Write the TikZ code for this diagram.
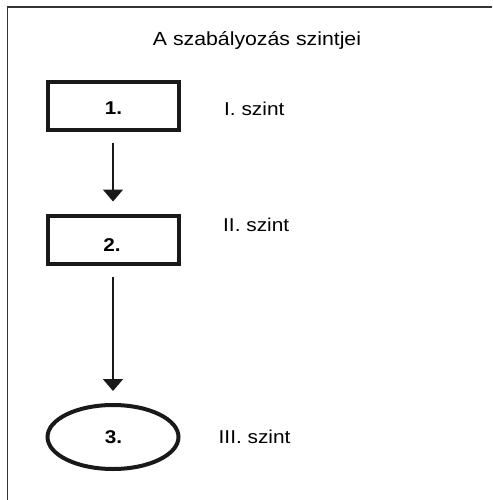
\documentclass[tikz,border=0pt]{standalone}
\usepackage{fontspec}
\setmainfont{Liberation Sans}
\newfontfamily\widefont[FakeStretch=1.12]{Liberation Sans}
\usetikzlibrary{arrows.meta,shapes.geometric}
\begin{document}
\begin{tikzpicture}[x=1pt,y=-1pt,
  levelbox/.style={draw=black!90,line width=4pt,minimum width=131pt,minimum height=48pt,inner sep=0pt},
  levelell/.style={ellipse,draw=black!90,line width=4pt,minimum width=131pt,minimum height=64pt,inner sep=0pt},
  numtxt/.style={font=\widefont\fontsize{18.5}{22}\selectfont\bfseries,anchor=base,inner sep=0pt},
  lbltxt/.style={font=\widefont\fontsize{18.6}{22}\selectfont,anchor=base west,inner sep=0pt},
  flow/.style={draw=black!90,line width=2pt,-{Triangle[width=20pt,length=12pt]},shorten <=11pt,shorten >=12pt}]
\useasboundingbox (0,0) rectangle (492,500);
\draw[line width=1.3pt,black!80] (7.5,500) -- (7.5,7) -- (492,7);
\node[font=\widefont\fontsize{19}{22}\selectfont,anchor=base,inner sep=0pt] (title) at (257,46) {A szabályozás szintjei};
\node[levelbox] (b1) at (113,106) {};
\node[levelbox] (b2) at (113,239.5) {};
\node[levelell] (b3) at (113,437) {};
\node[numtxt] (n1) at (113.5,114.7) {1.};
\node[numtxt] (n2) at (112,251.5) {2.};
\node[numtxt] (n3) at (113.5,443) {3.};
\node[lbltxt] (l1) at (224,115) {I. szint};
\node[lbltxt] (l2) at (223,231) {II. szint};
\node[lbltxt] (l3) at (218.5,443.3) {III. szint};
\draw[flow] (b1.south) -- (b2.north);
\draw[flow] (b2.south) -- (b3.north);
\end{tikzpicture}
\end{document}
